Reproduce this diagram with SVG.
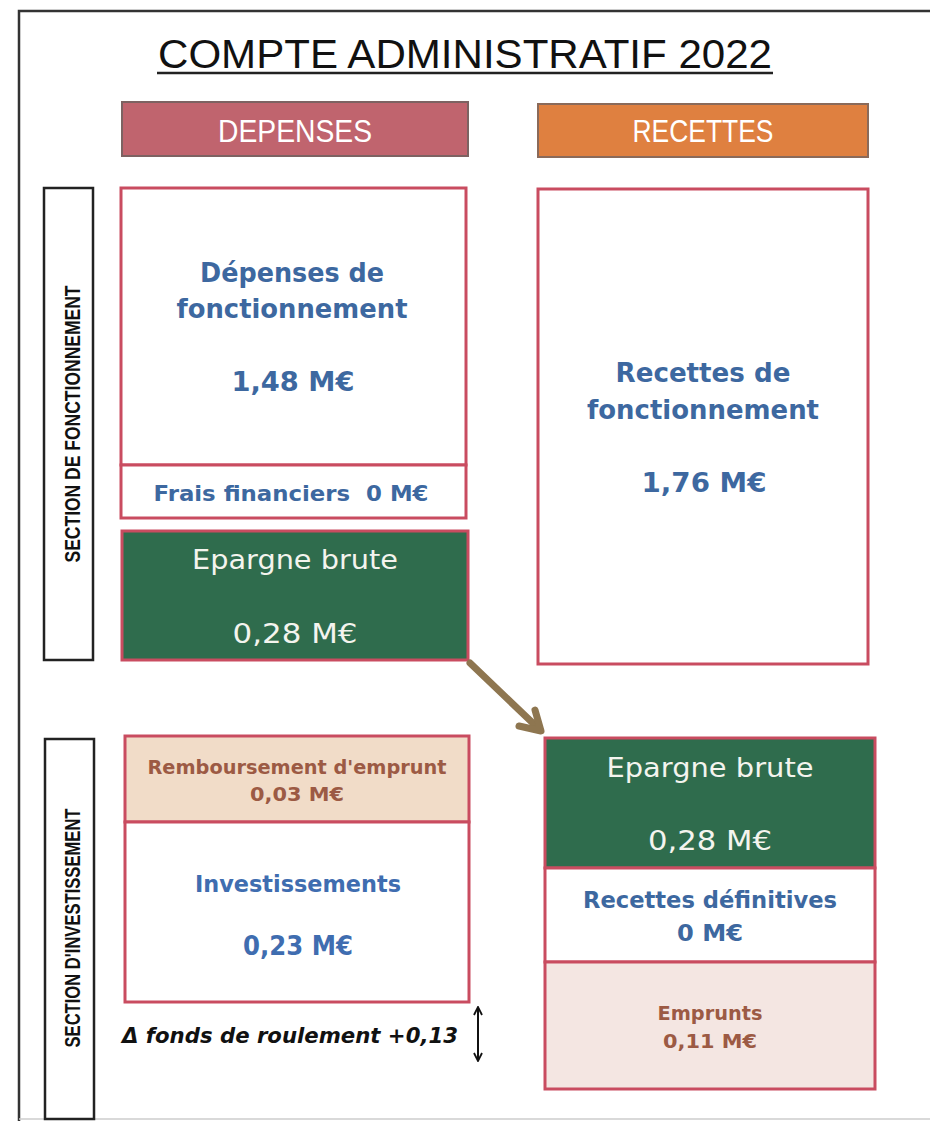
<svg xmlns="http://www.w3.org/2000/svg" width="930" height="1121" viewBox="0 0 930 1121">
<style>
.frame{fill:none;stroke:#333;stroke-width:2.5}
.box{fill:#fff;stroke:#c94c60;stroke-width:3}
.green{fill:#2f6c4d;stroke:#c94c60;stroke-width:3}
.tan{fill:#f1dcc8;stroke:#c94c60;stroke-width:3}
.pink{fill:#f4e6e2;stroke:#c94c60;stroke-width:3}
.sec{fill:#fff;stroke:#222;stroke-width:2.5}
.blue{font-family:"DejaVu Sans",sans-serif;font-weight:bold;fill:#3d68a0;text-anchor:middle}
.white{font-family:"DejaVu Sans",sans-serif;fill:#f4f4ee;text-anchor:middle}
.brown{font-family:"DejaVu Sans",sans-serif;font-weight:bold;fill:#9c5a44;text-anchor:middle}
.head{font-family:"Liberation Sans",sans-serif;fill:#fff;text-anchor:middle;font-size:31px}
.vlab{font-family:"Liberation Sans",sans-serif;font-weight:bold;fill:#111;text-anchor:middle;font-size:22px}
</style>
<defs>
<marker id="oa" viewBox="0 0 10 10" refX="9" refY="5" markerWidth="10" markerHeight="10" orient="auto-start-reverse" markerUnits="userSpaceOnUse">
<path d="M1,1 L9,5 L1,9" fill="none" stroke="#111" stroke-width="1.8"/>
</marker>
</defs>
<rect width="930" height="1121" fill="#fff"/>
<g id="frame">
<path class="frame" d="M930,11 L19,11 L19,1121"/>
<line x1="19" y1="1119" x2="930" y2="1119" stroke="#ccc" stroke-width="1.5"/>
</g>
<g id="title">
<text x="465" y="68" font-family="Liberation Sans, sans-serif" font-size="40" fill="#111" text-anchor="middle" textLength="614" lengthAdjust="spacingAndGlyphs">COMPTE ADMINISTRATIF 2022</text>
<line x1="157" y1="73" x2="773" y2="73" stroke="#222" stroke-width="2.5"/>
</g>
<g id="depenses-header">
<rect x="122" y="102" width="346" height="54" fill="#c0646e" stroke="#7d6262" stroke-width="2"/>
<text class="head" x="295" y="142" textLength="154" lengthAdjust="spacingAndGlyphs">DEPENSES</text>
</g>
<g id="recettes-header">
<rect x="538" y="104" width="330" height="53" fill="#df8040" stroke="#8a6a5a" stroke-width="2"/>
<text class="head" x="703" y="142" textLength="141" lengthAdjust="spacingAndGlyphs">RECETTES</text>
</g>
<g id="section-fonctionnement">
<rect class="sec" x="44" y="188" width="49" height="472"/>
<text class="vlab" transform="translate(80,424) rotate(-90)" textLength="277" lengthAdjust="spacingAndGlyphs">SECTION DE FONCTIONNEMENT</text>
</g>
<g id="depenses-fonctionnement">
<rect class="box" x="121" y="188" width="345" height="277"/>
<text class="blue" x="292" y="282" font-size="26" textLength="184" lengthAdjust="spacingAndGlyphs">Dépenses de</text>
<text class="blue" x="292" y="318" font-size="26" textLength="231" lengthAdjust="spacingAndGlyphs">fonctionnement</text>
<text class="blue" x="293" y="391" font-size="26" textLength="123" lengthAdjust="spacingAndGlyphs">1,48 M€</text>
</g>
<g id="frais-financiers">
<rect class="box" x="121" y="465" width="345" height="53"/>
<text class="blue" x="291" y="501" font-size="21" textLength="275" lengthAdjust="spacingAndGlyphs" xml:space="preserve">Frais financiers  0 M€</text>
</g>
<g id="epargne-brute-fonct">
<rect class="green" x="122" y="531" width="346" height="129"/>
<text class="white" x="295" y="569" font-size="26" textLength="206" lengthAdjust="spacingAndGlyphs">Epargne brute</text>
<text class="white" x="295" y="643" font-size="26" textLength="125" lengthAdjust="spacingAndGlyphs">0,28 M€</text>
</g>
<g id="recettes-fonctionnement">
<rect class="box" x="538" y="189" width="330" height="475"/>
<text class="blue" x="703" y="382" font-size="26" textLength="175" lengthAdjust="spacingAndGlyphs">Recettes de</text>
<text class="blue" x="703" y="419" font-size="26" textLength="232" lengthAdjust="spacingAndGlyphs">fonctionnement</text>
<text class="blue" x="704" y="492" font-size="26" textLength="125" lengthAdjust="spacingAndGlyphs">1,76 M€</text>
</g>
<g id="section-investissement">
<rect class="sec" x="45" y="739" width="49" height="380"/>
<text class="vlab" transform="translate(80,928) rotate(-90)" textLength="239" lengthAdjust="spacingAndGlyphs">SECTION D'INVESTISSEMENT</text>
</g>
<g id="remboursement-emprunt">
<rect class="tan" x="125" y="736" width="344" height="86"/>
<text class="brown" x="297" y="774" font-size="19" textLength="299" lengthAdjust="spacingAndGlyphs">Remboursement d'emprunt</text>
<text class="brown" x="297" y="801" font-size="19" textLength="94" lengthAdjust="spacingAndGlyphs">0,03 M€</text>
</g>
<g id="investissements">
<rect class="box" x="125" y="822" width="344" height="180"/>
<text class="blue" x="298" y="892" font-size="23" style="fill:#3f6db0" textLength="206" lengthAdjust="spacingAndGlyphs">Investissements</text>
<text class="blue" x="298" y="955" font-size="26" style="fill:#3f6db0" textLength="110" lengthAdjust="spacingAndGlyphs">0,23 M€</text>
</g>
<g id="fonds-roulement">
<text x="122" y="1043" font-family="DejaVu Sans, sans-serif" font-size="21" font-weight="bold" font-style="italic" fill="#111" textLength="336" lengthAdjust="spacingAndGlyphs">Δ fonds de roulement +0,13</text>
</g>
<g id="epargne-brute-invest">
<rect class="green" x="545" y="738" width="330" height="130"/>
<text class="white" x="710" y="777" font-size="26" textLength="207" lengthAdjust="spacingAndGlyphs">Epargne brute</text>
<text class="white" x="710" y="850" font-size="26" textLength="124" lengthAdjust="spacingAndGlyphs">0,28 M€</text>
</g>
<g id="recettes-definitives">
<rect class="box" x="545" y="868" width="330" height="94"/>
<text class="blue" x="710" y="908" font-size="23" textLength="254" lengthAdjust="spacingAndGlyphs">Recettes définitives</text>
<text class="blue" x="710" y="941" font-size="23" textLength="66" lengthAdjust="spacingAndGlyphs">0 M€</text>
</g>
<g id="emprunts">
<rect class="pink" x="545" y="962" width="330" height="127"/>
<text class="brown" x="710" y="1020" font-size="19" textLength="105" lengthAdjust="spacingAndGlyphs">Emprunts</text>
<text class="brown" x="710" y="1048" font-size="19" textLength="94" lengthAdjust="spacingAndGlyphs">0,11 M€</text>
</g>
<g id="connectors">
<path d="M470,663 L538,728" fill="none" stroke="#8e7650" stroke-width="7" stroke-linecap="round"/>
<path d="M535,710 L541,731 L519,726" fill="none" stroke="#8e7650" stroke-width="7" stroke-linecap="round" stroke-linejoin="round"/>
<line x1="478" y1="1007" x2="478" y2="1061" stroke="#111" stroke-width="2" marker-start="url(#oa)" marker-end="url(#oa)"/>
</g>
</svg>
